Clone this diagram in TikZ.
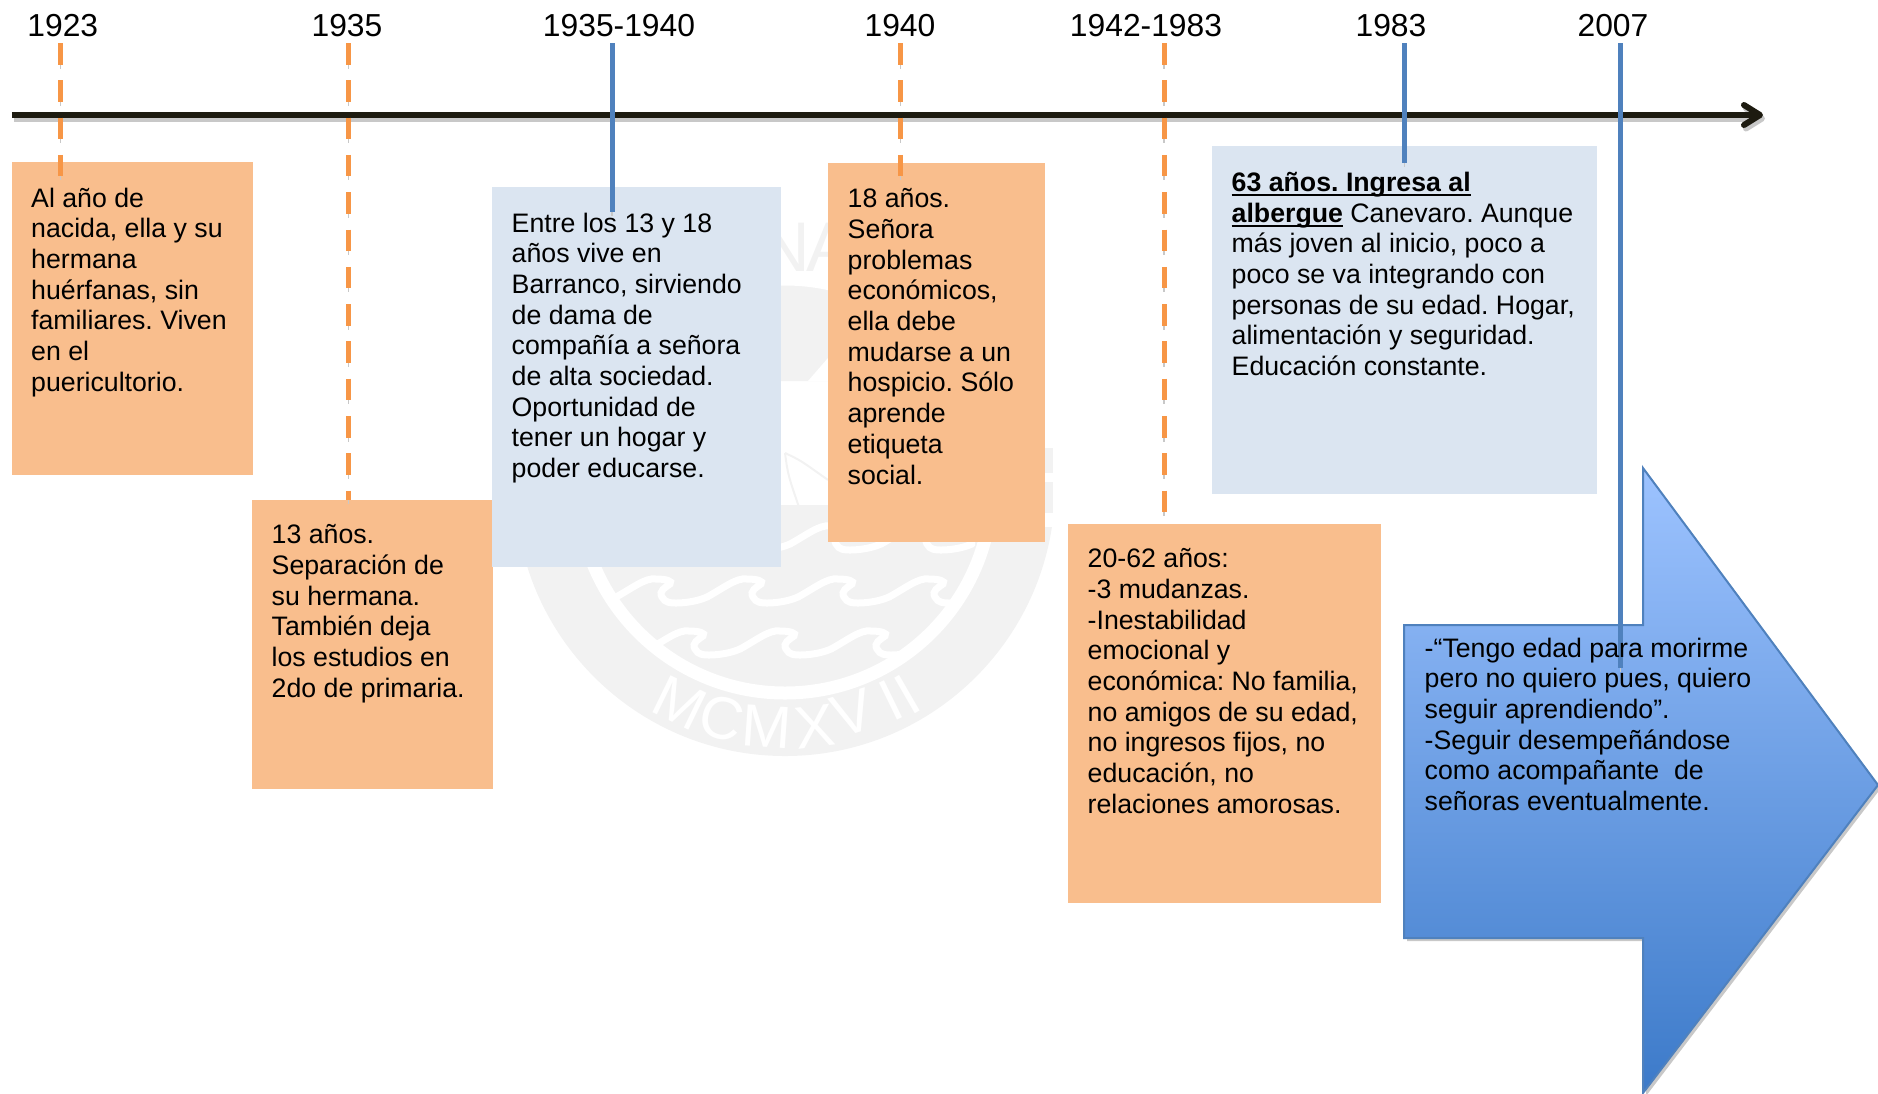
\documentclass[tikz,border=0pt]{standalone}
\usepackage{fontspec}
\setmainfont{Liberation Sans}
\usepackage{xcolor}
\usepackage{tikz}
\usetikzlibrary{arrows.meta}
\definecolor{boxorange}{HTML}{F9BE8D}
\definecolor{boxblue}{HTML}{DBE5F1}
\definecolor{tickorange}{HTML}{F79646}
\definecolor{tickblue}{HTML}{4F81BD}
\definecolor{axisblack}{HTML}{1D1B10}
\definecolor{shadowgray}{HTML}{C8C8C8}
\definecolor{sealgray}{HTML}{F2F2F2}
\definecolor{arrowtop}{HTML}{9DC3FF}
\definecolor{arrowbottom}{HTML}{3C7AC9}
\newcommand{\boldline}[1]{\setbox0\hbox{\textbf{#1}}\rlap{\rule[-1.3pt]{\wd0}{0.6pt}}\box0\relax}
\tikzset{
  yearlabel/.style={anchor=south, inner sep=0pt, inner ysep=0.055cm, font=\fontsize{9.05}{10}\selectfont},
  boxfill/.style={anchor=north west, inner sep=0pt, draw=none},
  orangebox/.style={boxfill, fill=boxorange},
  bluebox/.style={boxfill, fill=boxblue},
  boxtext/.style={anchor=north west, inner sep=0pt, align=left, font=\fontsize{7.6}{8.73}\selectfont\frenchspacing},
  dashtick/.style={line width=0.05cm, draw=tickorange, dash pattern=on 0.215cm off 0.158cm,
    preaction={draw=shadowgray, dash pattern=on 0.215cm off 0.158cm, transform canvas={yshift=-0.04cm}}},
  solidtick/.style={line width=0.05cm, draw=tickblue,
    preaction={draw=shadowgray, transform canvas={yshift=-0.04cm}}},
  sealletter/.style={inner sep=0pt, text=white, font=\fontsize{17}{17}\selectfont},
  sealwave/.pic={
    \draw[white, line width=0.07cm, line cap=round] (-0.40,0.18)
      .. controls (-0.25,0.10) and (-0.10,-0.02) .. (0,0)
      .. controls (0.10,0) and (0.17,0.02) .. (0.14,0.05)
      .. controls (0.10,0.08) and (0.02,0.12) .. (0.06,0.18)
      .. controls (0.09,0.24) and (0.15,0.24) .. (0.20,0.24)
      .. controls (0.30,0.24) and (0.42,0.22) .. (0.51,0.18);
  }
}

\begin{document}
\begin{tikzpicture}[x=1cm, y=-1cm]
  \useasboundingbox (0,0) rectangle (18.78,10.93);

  % Seal behind the boxes
  \coordinate (sealc) at (7.85,4.86);
  \begin{scope}
    \clip (0,5.27) rectangle (18,8);
    \fill[sealgray] (sealc) circle (2.70);
  \end{scope}
  \begin{scope}
    \clip (0,2) rectangle (18,3.81) (0,5.05) rectangle (18,8);
    \fill[sealgray] (sealc) circle (2.05);
  \end{scope}
  \fill[white] (8.08,3.81) -- (8.28,3.58) -- (8.28,3.81) -- cycle;
  \draw[sealgray, line width=0.02cm] (7.85,4.53) .. controls (8.00,4.60) .. (8.28,4.80);
  \draw[sealgray, line width=0.02cm] (7.85,4.53) .. controls (7.88,4.75) .. (8.00,5.10);
  \fill[sealgray] (10.40,4.48) rectangle (10.53,4.73);
  \fill[sealgray] (10.40,4.82) rectangle (10.53,5.13);
  \node[inner sep=0pt, text=sealgray, font=\fontsize{20}{20}\selectfont] (sealN) at (7.85,2.47) {N};
  \node[inner sep=0pt, text=sealgray, font=\fontsize{20}{20}\selectfont] (sealA) at (8.30,2.47) {A};
  \draw[white, line width=0.13cm] (sealc) circle (2.07);
  \begin{scope}
    \clip (sealc) circle (2.07);
    \pic at (7.39,5.26) {sealwave};
    \pic at (8.30,5.26) {sealwave};
    \pic at (9.21,5.26) {sealwave};
    \pic at (6.56,5.79) {sealwave};
    \pic at (7.47,5.79) {sealwave};
    \pic at (8.38,5.79) {sealwave};
    \pic at (9.29,5.79) {sealwave};
    \pic at (6.89,6.31) {sealwave};
    \pic at (7.80,6.31) {sealwave};
    \pic at (8.71,6.31) {sealwave};
  \end{scope}
  \node[sealletter, rotate=-26] (seal1) at (6.80,7.03) {M};
  \node[sealletter, rotate=-15] (seal2) at (7.22,7.18) {C};
  \node[sealletter, rotate=-4] (seal3) at (7.67,7.27) {M};
  \node[sealletter, rotate=7] (seal4) at (8.15,7.27) {X};
  \node[sealletter, rotate=17] (seal5) at (8.53,7.13) {V};
  \node[sealletter, rotate=26] (seal6) at (8.91,7.00) {I};
  \node[sealletter, rotate=30] (seal7) at (9.07,6.95) {I};

  % Box backgrounds
  \node[orangebox, minimum width=2.41cm, minimum height=3.13cm] (b1923) at (0.11,1.61) {};
  \node[orangebox, minimum width=2.41cm, minimum height=2.89cm] (b1935) at (2.51,4.99) {};
  \node[bluebox, minimum width=2.89cm, minimum height=3.80cm] (b3540) at (4.91,1.86) {};
  \node[orangebox, minimum width=2.17cm, minimum height=3.79cm] (b1940) at (8.27,1.62) {};
  \node[orangebox, minimum width=3.13cm, minimum height=3.79cm] (b4283) at (10.67,5.23) {};
  \node[bluebox, minimum width=3.85cm, minimum height=3.48cm] (b1983) at (12.11,1.45) {};

  % Large arrow at the end
  \fill[shadowgray] (14.07,6.28) -- (16.46,6.28) -- (16.46,4.71) -- (18.81,7.88)
    -- (16.46,10.96) -- (16.46,9.41) -- (14.07,9.41) -- cycle;
  \draw[tickblue, line width=0.02cm, top color=arrowtop, bottom color=arrowbottom]
    (14.04,6.25) -- (16.43,6.25) -- (16.43,4.68) -- (18.78,7.85)
    -- (16.43,10.93) -- (16.43,9.38) -- (14.04,9.38) -- cycle;

  % Time axis
  \coordinate (axisL) at (0.12,1.15);
  \coordinate (axisR) at (17.63,1.15);
  \draw[line width=0.06cm, draw=shadowgray, transform canvas={xshift=0.02cm, yshift=-0.035cm},
    -{Straight Barb[length=0.16cm, width=0.20cm, round]}] (axisL) -- (axisR);
  \draw[line width=0.06cm, draw=axisblack,
    -{Straight Barb[length=0.16cm, width=0.20cm, round]}] (axisL) -- (axisR);

  % Year labels
  \node[yearlabel] (y1923) at (0.628,0.43) {1923};
  \node[yearlabel] (y1935) at (3.47,0.43) {1935};
  \node[yearlabel] (y3540) at (6.19,0.43) {1935-1940};
  \node[yearlabel] (y1940) at (9.00,0.43) {1940};
  \node[yearlabel] (y4283) at (11.46,0.43) {1942-1983};
  \node[yearlabel] (y1983) at (13.91,0.43) {1983};
  \node[yearlabel] (y2007) at (16.13,0.43) {2007};

  % Ticks from the years down to the boxes
  \coordinate (e1923) at (0.605,1.76);
  \coordinate (e1935) at (3.486,5.00);
  \coordinate (e3540) at (6.12,2.115);
  \coordinate (e1940) at (9.007,1.76);
  \coordinate (e4283) at (11.64,5.16);
  \coordinate (e1983) at (14.047,1.63);
  \coordinate (e2007) at (16.207,6.68);
  \draw[dashtick] (y1923.south -| e1923) -- (e1923);
  \draw[dashtick] (y1935.south -| e1935) -- (e1935);
  \draw[solidtick] (y3540.south -| e3540) -- (e3540);
  \draw[dashtick] (y1940.south -| e1940) -- (e1940);
  \draw[dashtick] (y4283.south -| e4283) -- (e4283);
  \draw[solidtick] (y1983.south -| e1983) -- (e1983);
  \draw[solidtick] (y2007.south -| e2007) -- (e2007);

  % Box texts
  \node[boxtext] (t1923) at (0.305,1.87) {Al año de\\nacida, ella y su\\hermana\\huérfanas, sin\\familiares. Viven\\en el\\puericultorio.};
  \node[boxtext] (t1935) at (2.71,5.24) {13 años.\\Separación de\\su hermana.\\También deja\\los estudios en\\2do de primaria.};
  \node[boxtext] (t3540) at (5.11,2.12) {Entre los 13 y 18\\años vive en\\Barranco, sirviendo\\de dama de\\compañía a señora\\de alta sociedad.\\Oportunidad de\\tener un hogar y\\poder educarse.};
  \node[boxtext] (t1940) at (8.47,1.88) {18 años.\\Señora\\problemas\\económicos,\\ella debe\\mudarse a un\\hospicio. Sólo\\aprende\\etiqueta\\social.};
  \node[boxtext] (t4283) at (10.87,5.48) {20-62 años:\\-3 mudanzas.\\-Inestabilidad\\emocional y\\económica: No familia,\\no amigos de su edad,\\no ingresos fijos, no\\educación, no\\relaciones amorosas.};
  \node[boxtext] (t1983) at (12.31,1.715) {\boldline{63 años. Ingresa al}\\\boldline{albergue} Canevaro. Aunque\\más joven al inicio, poco a\\poco se va integrando con\\personas de su edad. Hogar,\\alimentación y seguridad.\\Educación constante.};
  \node[boxtext] (t2007) at (14.24,6.37) {-“Tengo edad para morirme\\pero no quiero pues, quiero\\seguir aprendiendo”.\\-Seguir desempeñándose\\como acompañante\ \ de\\señoras eventualmente.};
\end{tikzpicture}
\end{document}
